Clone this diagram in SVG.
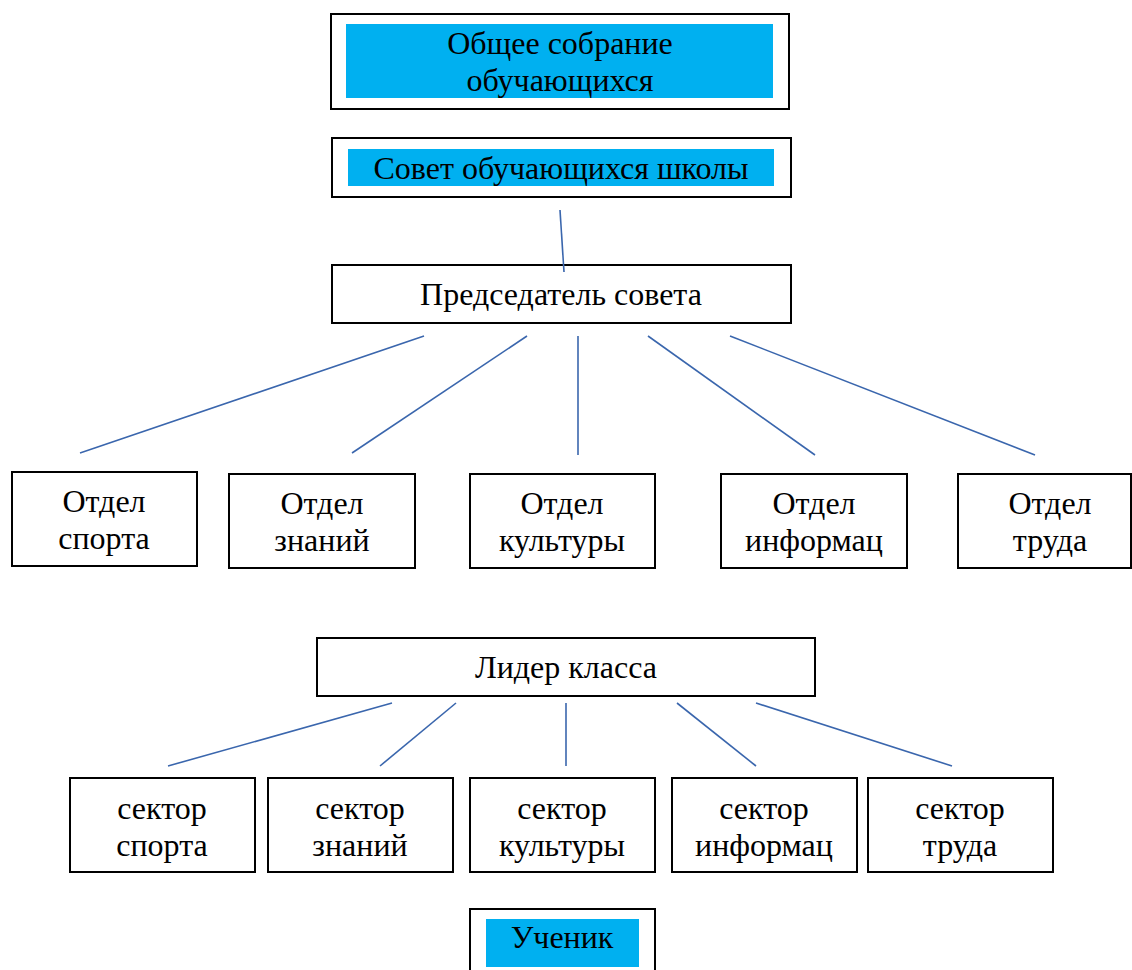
<svg xmlns="http://www.w3.org/2000/svg" width="1132" height="970" viewBox="0 0 1132 970">
<style>
.box{fill:#fff;stroke:#000;stroke-width:2}
.hl{fill:#00b0f0}
text{font-family:"Liberation Serif","Times New Roman",serif;font-size:32px;fill:#000;text-anchor:middle}
.c line{stroke:#3a66ad;stroke-width:1.6}
</style>
<rect width="1132" height="970" fill="#fff"/>
<g id="n-sobranie">
<rect class="box" x="331" y="14" width="458" height="95"/>
<rect class="hl" x="346" y="24" width="427" height="74"/>
<text x="560" y="54">Общее собрание</text>
<text x="560" y="91">обучающихся</text>
</g>
<g id="n-sovet">
<rect class="box" x="332" y="138" width="459" height="59"/>
<rect class="hl" x="348" y="149" width="426" height="37"/>
<text x="561" y="179">Совет обучающихся школы</text>
</g>
<g id="n-predsedatel">
<rect class="box" x="332" y="265" width="459" height="58"/>
<text x="561" y="305">Председатель совета</text>
</g>
<g id="n-sport">
<rect class="box" x="12" y="472" width="185" height="94"/>
<text x="104" y="512">Отдел</text>
<text x="104" y="549">спорта</text>
</g>
<g id="n-znaniy">
<rect class="box" x="229" y="474" width="186" height="94"/>
<text x="322" y="514">Отдел</text>
<text x="322" y="551">знаний</text>
</g>
<g id="n-kultury">
<rect class="box" x="470" y="474" width="185" height="94"/>
<text x="562" y="514">Отдел</text>
<text x="562" y="551">культуры</text>
</g>
<g id="n-informac">
<rect class="box" x="721" y="474" width="186" height="94"/>
<text x="814" y="514">Отдел</text>
<text x="814" y="551">информац</text>
</g>
<g id="n-truda">
<rect class="box" x="958" y="474" width="173" height="94"/>
<text x="1050" y="514">Отдел</text>
<text x="1050" y="551">труда</text>
</g>
<g id="n-lider">
<rect class="box" x="317" y="638" width="498" height="58"/>
<text x="566" y="678">Лидер класса</text>
</g>
<g id="n-s-sport">
<rect class="box" x="70" y="778" width="185" height="94"/>
<text x="162" y="819">сектор</text>
<text x="162" y="856">спорта</text>
</g>
<g id="n-s-znaniy">
<rect class="box" x="268" y="778" width="185" height="94"/>
<text x="360" y="819">сектор</text>
<text x="360" y="856">знаний</text>
</g>
<g id="n-s-kultury">
<rect class="box" x="470" y="778" width="185" height="94"/>
<text x="562" y="819">сектор</text>
<text x="562" y="856">культуры</text>
</g>
<g id="n-s-informac">
<rect class="box" x="672" y="778" width="185" height="94"/>
<text x="764" y="819">сектор</text>
<text x="764" y="856">информац</text>
</g>
<g id="n-s-truda">
<rect class="box" x="868" y="778" width="185" height="94"/>
<text x="960" y="819">сектор</text>
<text x="960" y="856">труда</text>
</g>
<g id="n-uchenik">
<rect class="box" x="470" y="909" width="185" height="70"/>
<rect class="hl" x="486" y="919" width="153" height="48"/>
<text x="562" y="948">Ученик</text>
</g>
<g id="connectors" class="c">
<line x1="560" y1="210" x2="564" y2="272"/>
<line x1="424" y1="336" x2="80" y2="453"/>
<line x1="527" y1="336" x2="352" y2="453"/>
<line x1="578" y1="336" x2="578" y2="455"/>
<line x1="648" y1="336" x2="815" y2="455"/>
<line x1="730" y1="336" x2="1035" y2="455"/>
<line x1="392" y1="703" x2="168" y2="766"/>
<line x1="456" y1="703" x2="380" y2="766"/>
<line x1="566" y1="703" x2="566" y2="766"/>
<line x1="677" y1="703" x2="756" y2="766"/>
<line x1="756" y1="703" x2="952" y2="766"/>
</g>
</svg>
